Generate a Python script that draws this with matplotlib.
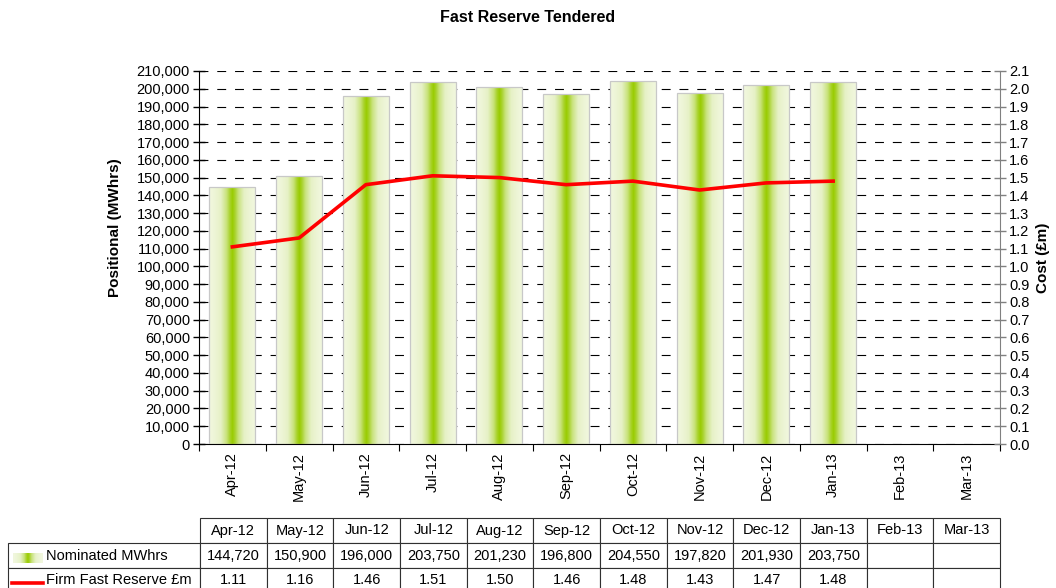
import numpy as np
import matplotlib
matplotlib.use("Agg")
import matplotlib.pyplot as plt
from matplotlib.colors import LinearSegmentedColormap
from matplotlib.ticker import FuncFormatter, MultipleLocator

plt.rcParams["font.family"] = ["Liberation Sans", "DejaVu Sans"]

months = ["Apr-12", "May-12", "Jun-12", "Jul-12", "Aug-12", "Sep-12",
          "Oct-12", "Nov-12", "Dec-12", "Jan-13", "Feb-13", "Mar-13"]
nominated = [144720, 150900, 196000, 203750, 201230, 196800,
             204550, 197820, 201930, 203750]
cost = [1.11, 1.16, 1.46, 1.51, 1.50, 1.46, 1.48, 1.43, 1.47, 1.48]
bar_label = "Nominated MWhrs"
line_label = "Firm Fast Reserve £m"

W, H = 1056, 588
AX_W, AX_H = 801, 373
FS = 10.5
fig = plt.figure(figsize=(W / 100, H / 100), dpi=100)
# axes box in pixels: x 199..1000, y 71..444
ax = fig.add_axes([199 / W, 1 - 444 / H, AX_W / W, AX_H / H])

# bar gradient: pale at edges, lime in the middle
grad_cmap = LinearSegmentedColormap.from_list(
    "bar", [(0.0, "#f1f7de"), (0.35, "#e6f1c6"), (0.65, "#c8e27a"),
            (0.85, "#a8d22a"), (1.0, "#99cc00")])
prof = (1 - np.abs(np.linspace(-1, 1, 200))) ** 1.5
grad = prof[np.newaxis, :]

x = np.arange(len(months))
n = len(nominated)
bars = ax.bar(x[:n], nominated, width=0.69, facecolor="none",
              edgecolor="#c8c8c8", linewidth=0.9, zorder=3)
for b in bars:
    x0, w, h = b.get_x(), b.get_width(), b.get_height()
    im = ax.imshow(grad, cmap=grad_cmap, vmin=0, vmax=1, aspect="auto",
                   extent=[x0, x0 + w, 0, h], zorder=2, interpolation="bilinear")
    im.set_clip_path(b)

ax.set_xlim(-0.5, len(months) - 0.5)
ax.set_ylim(0, 210000)
ax.yaxis.set_major_locator(MultipleLocator(10000))
ax.yaxis.set_major_formatter(FuncFormatter(lambda v, p: f"{int(v):,}"))
ax.grid(axis="y", color="black", linestyle=(0, (8, 8)), linewidth=0.8, zorder=1)
ax.set_axisbelow(True)
ax.get_ygridlines()[-1].set_color("#808080")
ax.tick_params(axis="y", direction="inout", length=9, width=1, labelsize=FS, pad=2)

ax.set_xticks(np.arange(-0.5, len(months)), minor=False)
ax.set_xticklabels([])
ax.set_xticks(x, minor=True)
ax.set_xticklabels(months, minor=True, rotation=90, fontsize=FS)
ax.tick_params(axis="x", which="major", direction="out", length=5, color="black")
ax.tick_params(axis="x", which="minor", length=0, pad=6)
for s in ["top", "right"]:
    ax.spines[s].set_visible(False)
ax.set_ylabel("Positional (MWhrs)", fontsize=11, fontweight="bold")
ax.yaxis.set_label_coords((122 - 199) / AX_W, (444 - 228) / AX_H)

ax2 = ax.twinx()
ax2.plot(x[:len(cost)], cost, color="#ff0000", linewidth=2.6, zorder=5,
         solid_joinstyle="round")
ax2.set_ylim(0, 2.1)
ax2.yaxis.set_major_locator(MultipleLocator(0.1))
ax2.yaxis.set_major_formatter(FuncFormatter(lambda v, p: f"{v:.1f}"))
ax2.tick_params(axis="y", direction="inout", length=9, width=1, color="#808080",
                labelsize=FS, pad=2)
for s in ["top", "left", "bottom"]:
    ax2.spines[s].set_visible(False)
ax2.spines["right"].set_color("#808080")
ax2.set_ylabel("Cost (£m)", fontsize=11, fontweight="bold", rotation=90, labelpad=5)

fig.text(0.5, 1 - 17 / H, "Fast Reserve Tendered", ha="center", va="center",
         fontsize=11.5, fontweight="bold")

# data table under the chart (bbox covers the month columns; row labels sit left of it)
cells = [[f"{v:,}" for v in nominated] + [""] * (len(months) - n),
         [f"{v:.2f}" for v in cost] + [""] * (len(months) - len(cost))]
tb = ax.table(cellText=cells, rowLabels=[bar_label, line_label], colLabels=months,
              cellLoc="center", rowLoc="left",
              bbox=[1 / AX_W, (444 - 593) / AX_H, 800 / AX_W, 75 / AX_H])
tb._autoColumns = [c for c in tb._autoColumns if c != -1]  # keep fixed label width
tb.auto_set_font_size(False)
tb.set_fontsize(FS)
for (r, c), cell in tb.get_celld().items():
    cell.set_linewidth(0.8)
    cell.set_edgecolor("#303030")
    cell.set_width((192 if c == -1 else 800 / 12) / AX_W)
    cell.set_height(25 / AX_H)
    if c == -1:
        cell.PAD = 0.2
tb.set_clip_on(False)

# legend keys inside the row label cells
sw = fig.add_axes([13 / W, 1 - 563 / H, 30 / W, 10 / H])
sw.imshow(grad, cmap=grad_cmap, vmin=0, vmax=1, aspect="auto", interpolation="bilinear")
sw.axis("off")
fig.add_artist(plt.Line2D([12 / W, 43 / W], [1 - 583 / H, 1 - 583 / H],
                          color="#ff0000", linewidth=2.6))

fig.savefig("out.png", dpi=100)
